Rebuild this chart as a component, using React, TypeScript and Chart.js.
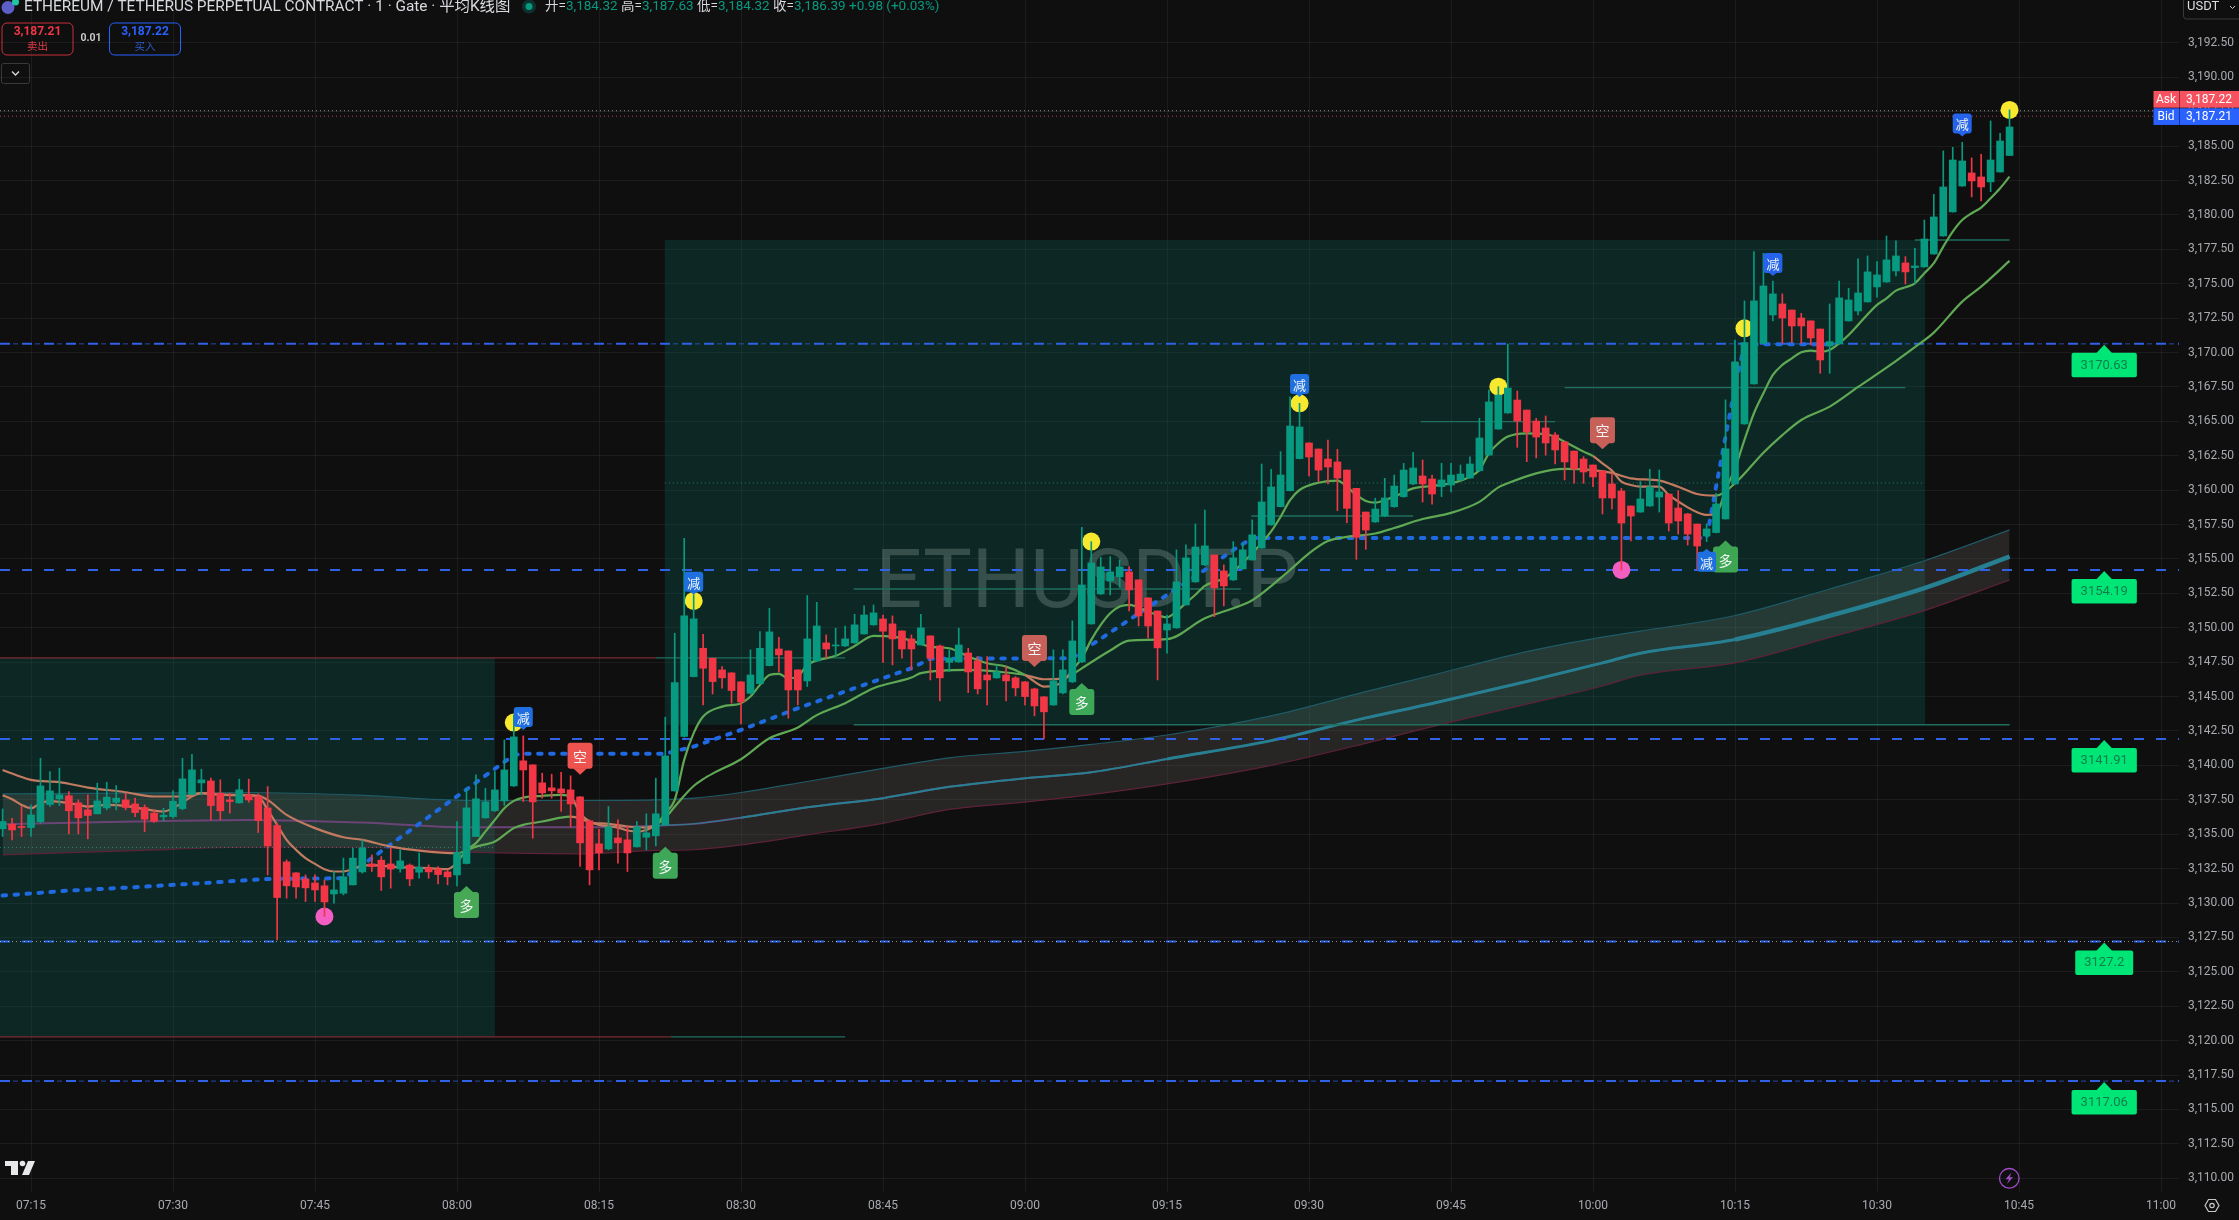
import React, { useEffect, useRef } from "react";
import { Chart, registerables } from "chart.js";

Chart.register(...registerables);

// ---- axes ----
const timeLabels = ["07:15", "07:30", "07:45", "08:00", "08:15", "08:30", "08:45", "09:00", "09:15", "09:30", "09:45", "10:00", "10:15", "10:30", "10:45", "11:00"];
const minuteMin = -3.275;
const minuteMax = 226.9;
const priceMin = 3109.0;
const priceMax = 3195.617;

// ---- 1 minute Heikin Ashi candles, first candle at minute -3 relative to 07:15 ----
const firstCandleMinute = -3;
const candleOpen = [
  3135.39, 3135.73, 3135.56, 3135.48, 3135.90, 3137.16, 3137.57, 3137.79, 3137.28, 3136.77,
  3136.48, 3136.91, 3137.32, 3137.49, 3137.20, 3136.94, 3136.53, 3136.26, 3136.28, 3136.86,
  3137.88, 3138.73, 3138.87, 3137.98, 3137.49, 3137.28, 3137.86, 3137.74, 3136.91, 3135.63,
  3132.99, 3132.19, 3131.75, 3131.46, 3131.25, 3130.66, 3130.71, 3131.32, 3132.26, 3132.84,
  3133.11, 3132.84, 3132.48, 3132.75, 3132.24, 3132.55, 3132.46, 3132.26, 3132.04, 3132.87,
  3134.83, 3136.19, 3136.70, 3137.42, 3138.51, 3140.33, 3140.04, 3138.73, 3138.37, 3138.29,
  3138.22, 3137.71, 3135.97, 3134.30, 3133.93, 3134.73, 3134.59, 3134.08, 3134.78, 3134.88,
  3135.68, 3138.15, 3142.10, 3146.45, 3148.51, 3147.79, 3146.94, 3146.72, 3146.07, 3145.24,
  3145.94, 3147.25, 3148.46, 3148.32, 3146.94, 3146.14, 3147.59, 3148.90, 3148.68, 3148.68,
  3148.90, 3149.55, 3150.21, 3150.64, 3150.28, 3149.77, 3149.19, 3148.75, 3149.41, 3148.68,
  3147.49, 3147.52, 3148.17, 3147.59, 3146.57, 3146.36, 3146.57, 3146.36, 3146.07, 3145.56,
  3144.98, 3144.39, 3145.27, 3146.07, 3147.52, 3150.28, 3152.46, 3153.40, 3153.70, 3154.06,
  3153.48, 3152.17, 3151.22, 3149.84, 3149.99, 3151.66, 3153.33, 3154.57, 3155.29, 3154.13,
  3153.48, 3154.28, 3154.93, 3155.80, 3157.47, 3158.80, 3159.96, 3162.29, 3163.43, 3162.99,
  3162.26, 3162.05, 3161.46, 3160.13, 3158.41, 3157.69, 3158.12, 3158.80, 3159.53, 3160.45,
  3161.03, 3160.81, 3160.25, 3160.37, 3160.74, 3160.88, 3161.42, 3162.55, 3164.44, 3165.61,
  3166.55, 3165.82, 3165.02, 3164.52, 3164.01, 3163.50, 3162.84, 3162.26, 3161.83, 3161.39,
  3160.45, 3159.94, 3158.85, 3158.41, 3158.85, 3159.50, 3159.72, 3158.70, 3158.27, 3157.54,
  3156.67, 3156.92, 3157.91, 3160.45, 3164.81, 3167.72, 3170.67, 3172.73, 3173.53, 3173.09,
  3172.51, 3172.30, 3171.71, 3170.48, 3170.63, 3172.30, 3173.02, 3173.68, 3174.77, 3175.13,
  3175.93, 3176.51, 3176.17, 3176.22, 3177.16, 3178.47, 3180.22, 3182.10, 3183.05, 3182.76,
  3182.40, 3183.12, 3184.32,
];
const candleHigh = [
  3136.84, 3136.16, 3137.01, 3137.13, 3140.52, 3139.55, 3139.80, 3138.10, 3137.49, 3137.86,
  3138.71, 3138.78, 3138.54, 3137.98, 3137.62, 3137.13, 3136.77, 3136.89, 3138.17, 3140.52,
  3140.81, 3139.72, 3139.07, 3138.95, 3137.98, 3139.00, 3139.00, 3137.93, 3138.46, 3135.80,
  3133.13, 3132.21, 3132.04, 3132.04, 3131.68, 3132.29, 3133.26, 3133.98, 3134.59, 3133.50,
  3133.38, 3133.98, 3133.86, 3132.84, 3133.62, 3132.77, 3132.65, 3132.41, 3135.92, 3138.34,
  3139.31, 3138.34, 3139.55, 3141.85, 3143.67, 3142.14, 3140.04, 3139.43, 3139.36, 3139.50,
  3139.24, 3137.74, 3136.04, 3135.36, 3137.01, 3136.04, 3135.56, 3135.92, 3136.48, 3139.07,
  3143.50, 3149.60, 3156.50, 3152.39, 3149.53, 3147.79, 3147.18, 3146.74, 3146.09, 3148.39,
  3149.72, 3151.42, 3149.31, 3148.32, 3146.94, 3152.34, 3151.85, 3149.48, 3149.97, 3150.13,
  3150.98, 3151.59, 3151.66, 3150.93, 3150.86, 3149.77, 3149.48, 3150.98, 3149.41, 3148.75,
  3148.39, 3149.97, 3148.51, 3147.91, 3147.91, 3147.30, 3147.18, 3146.45, 3146.09, 3145.61,
  3145.00, 3148.39, 3148.39, 3150.50, 3157.30, 3156.26, 3155.12, 3155.17, 3154.93, 3154.45,
  3153.48, 3152.17, 3151.22, 3150.93, 3155.66, 3156.02, 3157.55, 3158.56, 3155.29, 3154.57,
  3156.26, 3156.14, 3157.84, 3161.90, 3161.51, 3162.80, 3166.79, 3166.31, 3163.43, 3162.99,
  3163.64, 3162.97, 3161.46, 3160.13, 3158.41, 3159.41, 3160.86, 3161.10, 3161.95, 3162.75,
  3162.19, 3161.10, 3161.95, 3161.95, 3161.83, 3162.43, 3165.22, 3167.28, 3167.52, 3170.62,
  3167.20, 3165.82, 3165.22, 3165.39, 3164.18, 3163.50, 3162.84, 3162.43, 3161.83, 3161.39,
  3161.22, 3160.13, 3158.85, 3160.62, 3161.51, 3161.46, 3159.72, 3159.96, 3158.32, 3157.54,
  3157.55, 3159.77, 3166.56, 3170.90, 3173.75, 3177.33, 3177.21, 3175.20, 3174.26, 3173.09,
  3172.85, 3172.30, 3171.71, 3173.53, 3175.20, 3174.67, 3176.80, 3177.02, 3176.61, 3178.47,
  3178.11, 3176.97, 3177.58, 3179.63, 3181.50, 3184.65, 3184.91, 3185.28, 3184.14, 3184.41,
  3186.83, 3185.93, 3187.63,
];
const candleLow = [
  3134.83, 3134.59, 3134.83, 3134.83, 3135.80, 3137.01, 3137.08, 3135.02, 3135.02, 3134.66,
  3136.48, 3136.77, 3136.77, 3136.77, 3136.28, 3135.19, 3135.85, 3135.97, 3136.16, 3136.77,
  3137.86, 3137.86, 3136.04, 3136.04, 3136.53, 3137.25, 3137.32, 3135.12, 3132.04, 3127.32,
  3130.35, 3130.35, 3130.11, 3130.11, 3129.02, 3129.99, 3130.59, 3131.32, 3132.17, 3132.29,
  3130.91, 3131.08, 3132.24, 3131.25, 3131.80, 3131.80, 3131.39, 3131.32, 3131.25, 3132.84,
  3134.83, 3136.16, 3136.65, 3137.08, 3138.46, 3137.37, 3134.71, 3137.62, 3137.62, 3136.65,
  3135.56, 3132.65, 3131.32, 3132.41, 3133.86, 3132.89, 3132.29, 3134.06, 3133.86, 3134.15,
  3135.68, 3138.13, 3142.05, 3146.43, 3144.39, 3145.19, 3145.61, 3144.52, 3143.01, 3145.19,
  3145.92, 3147.23, 3146.77, 3143.43, 3144.39, 3145.73, 3147.54, 3147.79, 3147.91, 3148.63,
  3148.88, 3149.53, 3150.18, 3147.49, 3147.30, 3147.79, 3146.94, 3148.75, 3146.21, 3144.69,
  3146.82, 3147.49, 3145.29, 3145.19, 3144.39, 3146.33, 3144.69, 3145.05, 3144.39, 3143.60,
  3141.92, 3144.37, 3145.19, 3146.02, 3147.47, 3150.26, 3152.41, 3152.39, 3152.94, 3151.22,
  3150.13, 3149.24, 3146.21, 3148.15, 3149.96, 3151.64, 3153.31, 3154.52, 3150.81, 3151.59,
  3153.43, 3154.25, 3154.91, 3155.77, 3157.45, 3158.78, 3159.94, 3162.27, 3161.03, 3160.62,
  3160.45, 3158.51, 3157.64, 3154.97, 3155.70, 3157.66, 3158.07, 3158.75, 3159.48, 3160.40,
  3159.14, 3158.99, 3159.53, 3159.87, 3160.69, 3160.86, 3161.34, 3162.53, 3164.42, 3165.58,
  3163.11, 3162.07, 3162.34, 3162.55, 3161.90, 3160.74, 3160.50, 3160.50, 3160.25, 3158.27,
  3158.63, 3154.20, 3156.31, 3158.39, 3158.82, 3158.41, 3157.03, 3156.81, 3156.01, 3154.20,
  3156.26, 3156.90, 3157.89, 3160.43, 3164.79, 3167.70, 3170.65, 3172.30, 3170.67, 3170.72,
  3170.67, 3170.55, 3168.49, 3168.49, 3170.60, 3172.28, 3172.73, 3173.66, 3174.02, 3175.10,
  3175.57, 3174.98, 3175.03, 3176.20, 3177.14, 3178.45, 3180.20, 3182.08, 3181.31, 3181.02,
  3181.69, 3183.10, 3184.32,
];
const candleClose = [
  3135.92, 3135.31, 3135.48, 3136.40, 3138.51, 3138.15, 3137.86, 3136.70, 3136.19, 3136.36,
  3137.42, 3137.69, 3137.62, 3136.94, 3136.57, 3136.09, 3135.94, 3136.38, 3137.40, 3139.02,
  3139.67, 3138.95, 3137.08, 3136.70, 3137.37, 3138.22, 3137.49, 3135.99, 3134.15, 3130.40,
  3131.25, 3131.17, 3131.10, 3130.95, 3130.08, 3130.95, 3131.90, 3133.26, 3134.01, 3132.65,
  3131.90, 3132.46, 3133.06, 3131.75, 3132.60, 3132.26, 3132.07, 3131.90, 3133.67, 3136.91,
  3137.57, 3137.35, 3138.22, 3139.67, 3142.07, 3139.67, 3137.35, 3138.00, 3138.15, 3138.00,
  3137.20, 3134.37, 3132.41, 3133.64, 3135.53, 3134.37, 3133.64, 3135.53, 3135.10, 3136.48,
  3140.69, 3146.02, 3150.86, 3150.65, 3147.06, 3146.09, 3146.36, 3145.44, 3144.61, 3146.57,
  3148.51, 3149.70, 3148.03, 3145.48, 3145.48, 3149.19, 3150.13, 3148.46, 3148.75, 3149.19,
  3150.21, 3150.93, 3151.08, 3149.75, 3149.19, 3148.46, 3148.46, 3149.99, 3147.79, 3146.36,
  3147.81, 3148.75, 3146.79, 3145.56, 3146.21, 3146.79, 3146.14, 3145.63, 3145.00, 3144.32,
  3143.89, 3146.14, 3146.94, 3149.04, 3153.11, 3154.71, 3154.42, 3154.06, 3154.42, 3152.75,
  3150.86, 3150.13, 3148.54, 3150.28, 3153.33, 3155.08, 3155.87, 3155.95, 3152.90, 3153.04,
  3155.08, 3155.66, 3156.75, 3159.14, 3160.23, 3161.10, 3164.66, 3164.59, 3162.41, 3161.46,
  3161.68, 3160.88, 3158.68, 3156.57, 3157.10, 3158.63, 3159.43, 3160.30, 3161.46, 3161.61,
  3160.45, 3159.72, 3160.74, 3161.10, 3161.17, 3161.90, 3163.79, 3166.41, 3166.91, 3167.42,
  3165.02, 3164.23, 3163.86, 3163.43, 3162.92, 3162.05, 3161.54, 3161.32, 3160.96, 3159.43,
  3159.43, 3157.61, 3158.12, 3159.36, 3160.23, 3159.87, 3157.61, 3157.76, 3156.81, 3155.94,
  3157.18, 3159.00, 3163.00, 3169.32, 3170.72, 3173.75, 3174.84, 3174.26, 3172.51, 3171.93,
  3171.93, 3171.06, 3169.46, 3170.79, 3173.97, 3173.82, 3174.33, 3175.86, 3175.64, 3176.73,
  3177.02, 3175.86, 3176.29, 3178.25, 3179.85, 3182.03, 3183.99, 3183.92, 3182.47, 3182.03,
  3183.99, 3185.37, 3186.39,
];

// ---- fast moving average ----
const fastMinute = [
  -3, -2, -1, 0, 1, 2, 3, 5, 6, 8, 10, 12, 14, 15, 16, 17, 18, 20, 22, 24, 25, 26, 27, 28, 29, 30, 31, 32, 33, 34, 35, 36, 38, 40, 42, 44, 45, 46, 47, 48, 49, 50, 51, 52, 54, 56, 57, 58, 59, 60, 62, 63, 64, 65, 66, 67, 68, 69, 70, 71, 73, 75, 76, 77, 78, 79, 80, 81, 82, 83, 85, 87, 89, 91, 93, 95, 97, 99, 101, 103, 105, 106, 107, 108, 109, 110, 111, 112, 113, 114, 115, 116, 118, 120, 121, 122, 123, 124, 126, 127, 129, 131, 132, 133, 134, 136, 138, 139, 140, 141, 142, 143, 144, 146, 148, 150, 152, 153, 154, 155, 156, 158, 160, 162, 164, 165, 166, 167, 168, 169, 170, 172, 173, 175, 176, 177, 178, 179, 180, 181, 182, 183, 184, 185, 186, 187, 188, 189, 190, 191, 192, 193, 195, 196, 197, 198, 199, 200, 201, 202, 203, 204, 205, 206, 207, 208, 209,
];
const fastValue = [
  3137.83, 3137.54, 3137.13, 3136.89, 3137.25, 3137.40, 3137.35, 3137.13, 3137.01, 3137.13, 3137.06, 3136.82, 3136.65, 3136.89, 3137.30, 3137.74, 3137.98, 3137.88, 3137.83, 3137.74, 3136.77, 3135.68, 3134.59, 3133.86, 3133.26, 3132.84, 3132.46, 3132.29, 3132.29, 3132.46, 3132.72, 3132.75, 3132.65, 3132.58, 3132.53, 3132.46, 3132.94, 3133.86, 3134.35, 3135.19, 3136.04, 3136.89, 3137.42, 3137.66, 3137.79, 3137.86, 3137.74, 3136.53, 3135.92, 3135.68, 3135.48, 3135.27, 3135.19, 3135.31, 3135.65, 3136.53, 3137.50, 3140.40, 3142.34, 3143.55, 3144.27, 3144.52, 3145.00, 3145.85, 3146.57, 3146.65, 3146.33, 3146.45, 3147.30, 3147.62, 3147.96, 3148.68, 3149.41, 3149.36, 3149.07, 3148.63, 3148.51, 3147.91, 3147.42, 3147.18, 3146.57, 3146.09, 3145.73, 3145.78, 3146.09, 3146.94, 3147.79, 3149.12, 3150.21, 3151.06, 3151.54, 3151.66, 3151.18, 3150.76, 3151.20, 3151.80, 3152.40, 3153.05, 3153.59, 3154.08, 3155.41, 3157.00, 3158.07, 3159.28, 3160.01, 3160.54, 3160.69, 3160.25, 3159.65, 3159.21, 3159.09, 3159.28, 3159.53, 3160.13, 3160.30, 3160.50, 3160.98, 3161.46, 3162.68, 3163.40, 3163.89, 3164.13, 3164.08, 3163.52, 3162.80, 3162.48, 3161.95, 3161.42, 3160.62, 3160.37, 3160.25, 3160.25, 3159.65, 3158.75, 3158.40, 3158.20, 3158.27, 3160.02, 3161.59, 3163.65, 3165.59, 3167.04, 3168.37, 3169.10, 3169.58, 3170.02, 3170.14, 3170.07, 3170.19, 3170.67, 3171.28, 3172.01, 3173.46, 3173.94, 3174.50, 3174.74, 3175.03, 3175.76, 3176.49, 3177.70, 3178.79, 3179.63, 3180.12, 3180.53, 3181.21, 3181.94, 3182.78,
];

// ---- slow moving average ----
const slowMinute = [
  -3, 0, 3, 6, 10, 13, 16, 18, 20, 24, 25, 27, 30, 33, 35, 38, 41, 45, 47, 49, 51, 52, 54, 56, 57, 58, 59, 61, 63, 65, 66, 67, 68, 69, 70, 71, 72, 75, 78, 81, 83, 86, 89, 93, 94, 99, 103, 105, 107, 109, 110, 111, 114, 116, 120, 124, 127, 129, 133, 135, 137, 139, 142, 144, 147, 150, 153, 155, 156, 159, 162, 165, 167, 169, 172, 174, 176, 178, 180, 183, 185, 187, 190, 193, 196, 199, 201, 204, 206, 209,
];
const slowValue = [
  3139.67, 3138.95, 3138.78, 3138.39, 3138.05, 3137.74, 3137.74, 3137.98, 3137.86, 3137.79, 3137.49, 3136.40, 3135.44, 3134.78, 3134.59, 3134.10, 3133.81, 3133.62, 3134.10, 3134.47, 3135.44, 3135.68, 3135.92, 3136.21, 3136.28, 3136.16, 3135.87, 3135.75, 3135.56, 3135.48, 3135.68, 3136.20, 3137.00, 3137.80, 3138.50, 3139.00, 3139.40, 3140.45, 3141.97, 3142.75, 3143.65, 3144.52, 3145.61, 3146.38, 3146.70, 3146.94, 3146.75, 3146.57, 3146.26, 3146.30, 3146.60, 3147.05, 3148.35, 3149.07, 3149.17, 3150.69, 3151.42, 3152.00, 3154.20, 3155.41, 3156.30, 3156.60, 3156.85, 3157.25, 3157.90, 3158.35, 3159.15, 3160.20, 3160.50, 3161.22, 3161.54, 3161.45, 3161.25, 3160.86, 3160.69, 3160.25, 3159.72, 3159.60, 3160.50, 3162.72, 3164.00, 3165.10, 3166.07, 3167.50, 3168.90, 3170.40, 3171.45, 3173.70, 3174.79, 3176.66,
];
// stretches of minutes where both averages turn orange
const bearishFrom = [-9, 57, 105, 165];
const bearishTo = [45, 66, 110, 178];

// ---- thick dotted trail line ----
const trailMinute = [-3, 4, 11, 18, 25, 33, 36, 51, 52, 67, 70, 75, 81, 87, 93, 95, 110, 112, 120, 124, 127, 129, 177, 178, 179, 180, 181, 190];
const trailValue = [3130.54, 3130.90, 3131.15, 3131.44, 3131.75, 3131.80, 3133.26, 3140.75, 3140.85, 3140.85, 3141.37, 3142.58, 3144.15, 3145.61, 3147.06, 3147.75, 3147.79, 3148.75, 3152.39, 3154.20, 3155.65, 3156.52, 3156.52, 3160.25, 3163.90, 3167.50, 3170.60, 3170.60];

// ---- long moving average ribbon ----
const ribbonMinute = [-3, 11, 23, 35, 46, 58, 66, 70, 75, 82, 90, 97, 105, 112, 120, 131, 141, 148, 158, 166, 170, 180, 190, 200, 209];
const ribbonUpper = [3137.93, 3137.98, 3138.03, 3137.82, 3137.45, 3137.45, 3137.49, 3137.62, 3138.03, 3138.83, 3139.78, 3140.55, 3141.02, 3141.52, 3142.21, 3143.60, 3145.36, 3146.55, 3148.27, 3149.32, 3149.76, 3150.89, 3152.82, 3154.87, 3157.11];
const ribbonMiddle = [3135.73, 3135.92, 3136.04, 3135.85, 3135.51, 3135.51, 3135.62, 3135.75, 3136.20, 3136.95, 3137.62, 3138.44, 3139.07, 3139.50, 3140.47, 3141.80, 3143.45, 3144.50, 3146.10, 3147.45, 3148.15, 3149.15, 3150.87, 3152.88, 3155.17];
const ribbonLower = [3133.50, 3133.81, 3134.05, 3134.05, 3133.70, 3133.57, 3133.82, 3133.87, 3134.22, 3134.95, 3135.79, 3136.80, 3137.33, 3137.87, 3138.65, 3140.00, 3141.60, 3142.82, 3144.45, 3145.77, 3146.55, 3147.45, 3149.30, 3151.25, 3153.47];

// ---- horizontal levels ----
const levelValues = [3170.63, 3154.19, 3141.91, 3127.2, 3117.06];
const levelLabelMinute = 219;
const askPrice = 3187.22;
const bidPrice = 3187.21;
const highDotted = 3187.57;
const lowDotted = 3187.17;

// ---- zones ----
const zoneFrom = [minuteMin, 66.95];
const zoneTo = [49, 200.07];
const zoneTop = [3147.81, 3178.18];
const zoneBottom = [3120.27, 3142.95];
const zoneMidDotFrom = [minuteMin, 66.95];
const zoneMidDotTo = [49, 200.07];
const zoneMid = [3134.04, 3160.52];
const stubValue = [3147.81, 3147.81, 3120.27, 3120.27, 3178.18, 3142.95, 3152.82, 3158.12, 3164.98, 3167.45];
const stubFrom = [minuteMin, 66, minuteMin, 67.6, 199, 86.9, 86.9, 128.9, 146.8, 162];
const stubTo = [66, 86, 67.6, 86, 209, 209, 127.8, 146, 161, 198];
const stubIsRed = [true, false, true, false, false, false, false, false, false, false];

// ---- signals ----
const yellowMinute = [51, 70, 112, 134, 155, 181, 209];
const yellowPrice = [3143.11, 3151.95, 3156.26, 3166.31, 3167.52, 3171.76, 3187.63];
const pinkMinute = [31, 168];
const pinkPrice = [3129.02, 3154.2];
const tagMinute = [46, 67, 111, 179, 58, 106, 166, 52, 70, 134, 177, 184, 204];
const tagPrice = [3129.86, 3132.7, 3144.6, 3154.96, 3140.7, 3148.53, 3164.36, 3143.52, 3153.35, 3167.72, 3154.8, 3176.51, 3186.64];
const tagText = ["多", "多", "多", "多", "空", "空", "空", "减", "减", "减", "减", "减", "减"];
const tagColor = ["#47a856", "#3fa758", "#3da858", "#3ea553", "#ef5350", "#c8605a", "#c8605a", "#1f6fe0", "#1f6fe0", "#1f6fe0", "#1f6fe0", "#2563eb", "#2563eb"];

// ---- colours ----
const UP = "#089981";
const DOWN = "#f23645";
const GREEN_LINE = "#5fa854";
const ORANGE_LINE = "#c27a60";
const BG = "#0f0f10";
const ZONE_FILL = "rgba(8,153,129,0.18)";
const SANS = "Roboto, 'Noto Sans', sans-serif";
const CJK = "'Noto Sans CJK SC', Roboto, sans-serif";

const pts = (xs: number[], ys: number[]) => xs.map((x, i) => ({ x, y: ys[i] }));
const candleMinute = candleOpen.map((_, i) => firstCandleMinute + i);
const isUp = (i: number) => candleClose[i] >= candleOpen[i];
const inBearish = (m: number) => bearishFrom.some((f, i) => m >= f && m < bearishTo[i]);
const fmt = (v: number) => v.toLocaleString("en-US", { minimumFractionDigits: 2, maximumFractionDigits: 2 });

function hLine(y: number, from: number, to: number, color: string, width: number, dash: number[], order: number) {
  return {
    type: "line",
    data: [{ x: from, y }, { x: to, y }],
    borderColor: color,
    borderWidth: width,
    borderDash: dash,
    pointRadius: 0,
    fill: false,
    order,
  };
}

function rr(ctx: CanvasRenderingContext2D, x: number, y: number, w: number, h: number, r: number) {
  ctx.beginPath();
  ctx.roundRect(x, y, w, h, r);
}

const decorations = {
  id: "decorations",
  beforeDraw(chart: any) {
    const ctx = chart.ctx;
    ctx.save();
    ctx.fillStyle = BG;
    ctx.fillRect(0, 0, chart.width, chart.height);
    ctx.restore();
  },
  beforeDatasetsDraw(chart: any) {
    const { ctx, scales, chartArea } = chart;
    const X = scales.x;
    const Y = scales.y;
    ctx.save();
    ctx.beginPath();
    ctx.rect(chartArea.left, chartArea.top, chartArea.right - chartArea.left, chartArea.bottom - chartArea.top);
    ctx.clip();
    zoneFrom.forEach((from, i) => {
      const x0 = X.getPixelForValue(from);
      const x1 = X.getPixelForValue(zoneTo[i]);
      const y0 = Y.getPixelForValue(zoneTop[i]);
      const y1 = Y.getPixelForValue(zoneBottom[i]);
      ctx.fillStyle = ZONE_FILL;
      ctx.fillRect(x0, y0, x1 - x0, y1 - y0);
    });
    ctx.fillStyle = "rgba(205,220,215,0.22)";
    ctx.font = `82px ${SANS}`;
    ctx.textAlign = "center";
    ctx.textBaseline = "middle";
    ctx.fillText("ETHUSDT.P", 1087, 586);
    ctx.restore();
  },
  afterDatasetsDraw(chart: any) {
    const { ctx, scales } = chart;
    const X = scales.x;
    const Y = scales.y;
    ctx.save();
    // signal tags
    tagText.forEach((text, i) => {
      const cx = X.getPixelForValue(tagMinute[i]);
      const cy = Y.getPixelForValue(tagPrice[i]);
      const small = text === "减";
      const w = small ? 19 : 25;
      const h = small ? 20 : 26;
      const pointsUp = text === "多" || tagMinute[i] === 177;
      ctx.fillStyle = tagColor[i];
      rr(ctx, cx - w / 2, cy - h / 2, w, h, 3);
      ctx.fill();
      const tip = small ? 3 : 6;
      ctx.beginPath();
      if (pointsUp) {
        ctx.moveTo(cx - tip - 1, cy - h / 2 + 0.5);
        ctx.lineTo(cx, cy - h / 2 - tip);
        ctx.lineTo(cx + tip + 1, cy - h / 2 + 0.5);
      } else {
        ctx.moveTo(cx - tip - 1, cy + h / 2 - 0.5);
        ctx.lineTo(cx, cy + h / 2 + tip);
        ctx.lineTo(cx + tip + 1, cy + h / 2 - 0.5);
      }
      ctx.closePath();
      ctx.fill();
      ctx.fillStyle = "#f1f6f4";
      ctx.font = `${small ? 13 : 14}px ${CJK}`;
      ctx.textAlign = "center";
      ctx.textBaseline = "middle";
      ctx.fillText(text, cx, cy + 1);
    });
    // level labels
    levelValues.forEach((lv) => {
      const cx = X.getPixelForValue(levelLabelMinute);
      const ly = Y.getPixelForValue(lv);
      const text = String(lv);
      ctx.font = `13px ${SANS}`;
      const w = ctx.measureText(text).width + 18;
      ctx.fillStyle = "#00e676";
      rr(ctx, cx - w / 2, ly + 9, w, 24.5, 2);
      ctx.fill();
      ctx.beginPath();
      ctx.moveTo(cx - 8, ly + 9.5);
      ctx.lineTo(cx, ly + 1);
      ctx.lineTo(cx + 8, ly + 9.5);
      ctx.closePath();
      ctx.fill();
      ctx.fillStyle = "#0f7d4b";
      ctx.textAlign = "center";
      ctx.textBaseline = "middle";
      ctx.fillText(text, cx, ly + 21.5);
    });
    ctx.restore();
  },
  afterDraw(chart: any) {
    const { ctx } = chart;
    ctx.save();
    ctx.textBaseline = "middle";
    // logo
    ctx.fillStyle = "#5b5fc7";
    ctx.beginPath();
    ctx.arc(8, 7.5, 6.5, 0, Math.PI * 2);
    ctx.fill();
    ctx.fillStyle = "#1fc7a5";
    ctx.beginPath();
    ctx.arc(15.5, 2, 3.5, 0, Math.PI * 2);
    ctx.fill();
    // header
    ctx.textAlign = "left";
    ctx.font = `15.4px ${SANS}, 'Noto Sans CJK SC'`;
    ctx.fillStyle = "#d8dade";
    ctx.fillText("ETHEREUM / TETHERUS PERPETUAL CONTRACT · 1 · Gate · 平均K线图", 24, 7);
    ctx.fillStyle = "rgba(8,153,129,0.25)";
    ctx.beginPath();
    ctx.arc(529, 6.5, 7, 0, Math.PI * 2);
    ctx.fill();
    ctx.fillStyle = "#089981";
    ctx.beginPath();
    ctx.arc(529, 6.5, 3.5, 0, Math.PI * 2);
    ctx.fill();
    let hx = 545;
    const ohlc: [string, string][] = [
      ["开=", "#d8dade"], ["3,184.32", UP], [" 高=", "#d8dade"], ["3,187.63", UP], [" 低=", "#d8dade"], ["3,184.32", UP], [" 收=", "#d8dade"], ["3,186.39", UP], [" +0.98 (+0.03%)", UP],
    ];
    ctx.font = `13.5px ${SANS}, 'Noto Sans CJK SC'`;
    ohlc.forEach(([t, c]) => {
      ctx.fillStyle = c;
      ctx.fillText(t, hx, 7);
      hx += ctx.measureText(t).width;
    });
    // buy / sell widgets
    ctx.lineWidth = 1;
    ctx.strokeStyle = "#c9303a";
    rr(ctx, 2, 23, 71, 32, 5);
    ctx.stroke();
    ctx.strokeStyle = "#2962ff";
    rr(ctx, 109.5, 23, 71, 32, 5);
    ctx.stroke();
    ctx.textAlign = "center";
    ctx.font = `bold 12px ${SANS}`;
    ctx.fillStyle = "#f23645";
    ctx.fillText("3,187.21", 37.5, 32);
    ctx.fillStyle = "#2962ff";
    ctx.fillText("3,187.22", 145, 32);
    ctx.font = `bold 10.5px ${SANS}`;
    ctx.fillStyle = "#c8c8c8";
    ctx.fillText("0.01", 91, 38.5);
    ctx.font = `10.5px ${CJK}`;
    ctx.fillStyle = "#e03a45";
    ctx.fillText("卖出", 37.5, 46.5);
    ctx.fillStyle = "#2f5cc9";
    ctx.fillText("买入", 145, 46.5);
    // collapse button
    ctx.strokeStyle = "#3a3a3c";
    rr(ctx, 1.5, 63.5, 28, 20, 2);
    ctx.stroke();
    ctx.strokeStyle = "#d8dade";
    ctx.lineWidth = 1.3;
    ctx.beginPath();
    ctx.moveTo(12, 71.5);
    ctx.lineTo(15.5, 75);
    ctx.lineTo(19, 71.5);
    ctx.stroke();
    // USDT
    ctx.strokeStyle = "#3a3a3c";
    ctx.lineWidth = 1;
    rr(ctx, 2183.5, -6, 60, 25, 3);
    ctx.stroke();
    ctx.font = `13px ${SANS}`;
    ctx.fillStyle = "#dcdde0";
    ctx.textAlign = "left";
    ctx.fillText("USDT", 2187, 7);
    ctx.strokeStyle = "#c8c9cc";
    ctx.beginPath();
    ctx.moveTo(2230, 6);
    ctx.lineTo(2232.5, 8.5);
    ctx.lineTo(2235, 6);
    ctx.stroke();
    // ask / bid
    const Y = chart.scales.y;
    const askY = Y.getPixelForValue(askPrice) - 24.6;
    const rows: [string, number, string][] = [["Ask", askPrice, "#f7525f"], ["Bid", bidPrice, "#2962ff"]];
    rows.forEach(([name, price, color], i) => {
      const top = askY + i * 17.3;
      ctx.fillStyle = color;
      ctx.fillRect(2153.5, top, 25.5, 16.7);
      ctx.fillRect(2179.5, top, 59.5, 16.7);
      ctx.fillStyle = "#ffffff";
      ctx.textAlign = "center";
      ctx.font = `12px ${SANS}`;
      ctx.fillText(name, 2166, top + 8.6);
      ctx.fillText(fmt(price), 2209, top + 8.6);
    });
    // TradingView mark
    ctx.fillStyle = "#e8e8ea";
    ctx.fillRect(5, 1161, 13, 5);
    ctx.fillRect(11, 1161, 7, 14);
    ctx.beginPath();
    ctx.arc(22.5, 1163.5, 2.8, 0, Math.PI * 2);
    ctx.fill();
    ctx.beginPath();
    ctx.moveTo(28, 1161);
    ctx.lineTo(35, 1161);
    ctx.lineTo(29, 1175);
    ctx.lineTo(22, 1175);
    ctx.closePath();
    ctx.fill();
    // lightning badge
    ctx.strokeStyle = "#a24cc9";
    ctx.lineWidth = 1.3;
    ctx.beginPath();
    ctx.arc(2009.3, 1178.3, 9.8, 0, Math.PI * 2);
    ctx.stroke();
    ctx.fillStyle = "#a24cc9";
    ctx.beginPath();
    ctx.moveTo(2011.5, 1172.5);
    ctx.lineTo(2005.5, 1179.3);
    ctx.lineTo(2009, 1179.3);
    ctx.lineTo(2007, 1184);
    ctx.lineTo(2013, 1177.3);
    ctx.lineTo(2009.6, 1177.3);
    ctx.closePath();
    ctx.fill();
    // settings hexagon
    ctx.strokeStyle = "#c8c9cc";
    ctx.lineWidth = 1.2;
    ctx.beginPath();
    [[-7, 0], [-3.5, -6], [3.5, -6], [7, 0], [3.5, 6], [-3.5, 6]].forEach(([dx, dy], i) => {
      if (i === 0) ctx.moveTo(2212 + dx, 1205.5 + dy);
      else ctx.lineTo(2212 + dx, 1205.5 + dy);
    });
    ctx.closePath();
    ctx.stroke();
    ctx.beginPath();
    ctx.arc(2212, 1205.5, 2.2, 0, Math.PI * 2);
    ctx.stroke();
    ctx.restore();
  },
};

export default function App() {
  const ref = useRef<HTMLCanvasElement | null>(null);
  useEffect(() => {
    if (!ref.current) return;
    document.body.style.background = BG;
    const ma = (xs: number[], ys: number[], order: number) => ({
      type: "line",
      data: pts(xs, ys),
      borderColor: GREEN_LINE,
      borderWidth: 2.2,
      cubicInterpolationMode: "monotone",
      pointRadius: 0,
      fill: false,
      order,
      segment: { borderColor: (c: any) => (inBearish(c.p0.parsed.x) ? ORANGE_LINE : undefined) },
    });
    const datasets: any[] = [
      {
        type: "line", data: pts(ribbonMinute, ribbonUpper), borderColor: "#1f5a66", borderWidth: 1.2, pointRadius: 0,
        cubicInterpolationMode: "monotone", fill: "+1", backgroundColor: "rgba(135,130,125,0.2)", order: 50,
      },
      {
        type: "line", data: pts(ribbonMinute, ribbonMiddle), borderColor: "#6a4477", borderWidth: 2, pointRadius: 0,
        cubicInterpolationMode: "monotone", fill: "+1", backgroundColor: "rgba(135,130,125,0.2)", order: 49,
      },
      {
        type: "line", data: pts(ribbonMinute, ribbonLower), borderColor: "#5e2238", borderWidth: 1.2, pointRadius: 0,
        cubicInterpolationMode: "monotone", fill: false, order: 48,
      },
      {
        type: "line",
        data: pts(ribbonMinute.slice(6), ribbonMiddle.slice(6)),
        borderColor: "#277f92",
        borderWidth: 2,
        pointRadius: 0,
        cubicInterpolationMode: "monotone",
        fill: false,
        order: 47,
        segment: {
          borderWidth: (c: any) => {
            const m = c.p0.parsed.x;
            return m < 75 ? 1 : m < 120 ? 2 : m < 180 ? 3 : 4.5;
          },
        },
      },
      ...zoneMid.map((v, i) => hLine(v, zoneMidDotFrom[i], zoneMidDotTo[i], "rgba(60,190,160,0.55)", 1, [1, 3], 45)),
      ...stubValue.map((v, i) => hLine(v, stubFrom[i], stubTo[i], stubIsRed[i] ? "#7d2a30" : "#1f6f5c", 1.4, [], 44)),
      hLine(highDotted, minuteMin, minuteMax, "rgba(255,255,255,0.55)", 1, [1, 3], 40),
      hLine(lowDotted, minuteMin, minuteMax, "rgba(242,90,110,0.7)", 1, [1, 3], 40),
      ...levelValues.map((v) => hLine(v, minuteMin, minuteMax, "#2f62e6", 2, [10, 12], 38)),
      hLine(levelValues[0], minuteMin, minuteMax, "rgba(47,98,230,0.7)", 1, [0, 13, 5, 4], 37),
      hLine(levelValues[4], minuteMin, minuteMax, "rgba(47,98,230,0.7)", 1, [0, 13, 5, 4], 37),
      hLine(levelValues[3], minuteMin, minuteMax, "rgba(255,255,255,0.55)", 1, [1, 3], 37),
      {
        type: "line", data: pts(trailMinute, trailValue), borderColor: "#1f6ae0", borderWidth: 4, borderDash: [3.5, 8.5],
        borderCapStyle: "round", pointRadius: 0, fill: false, tension: 0, order: 30,
      },
      ma(slowMinute, slowValue, 25),
      ma(fastMinute, fastValue, 24),
      {
        type: "scatter", data: pts(yellowMinute, yellowPrice), showLine: false, pointRadius: 9, pointBorderWidth: 0,
        backgroundColor: "#f8e92f", borderWidth: 0, order: 12,
      },
      {
        type: "scatter", data: pts(pinkMinute, pinkPrice), showLine: false, pointRadius: 9, pointBorderWidth: 0,
        backgroundColor: "#f25ec1", borderWidth: 0, order: 12,
      },
      {
        type: "bar",
        data: candleMinute.map((x, i) => ({ x, y: [candleLow[i], candleHigh[i]] })),
        backgroundColor: candleMinute.map((_, i) => (isUp(i) ? UP : DOWN)),
        barThickness: 1,
        grouped: false,
        order: 6,
      },
      {
        type: "bar",
        data: candleMinute.map((x, i) => ({ x, y: [candleOpen[i], candleClose[i]] })),
        backgroundColor: candleMinute.map((_, i) => (isUp(i) ? UP : DOWN)),
        barThickness: 7,
        minBarLength: 1,
        grouped: false,
        order: 5,
      },
    ];
    const gridColor = "rgba(255,255,255,0.055)";
    const chart = new Chart(ref.current, {
      type: "bar",
      data: { datasets },
      plugins: [decorations],
      options: {
        responsive: false,
        animation: false,
        events: [],
        layout: { padding: 0, autoPadding: false },
        plugins: { legend: { display: false }, tooltip: { enabled: false }, title: { display: false } },
        scales: {
          x: {
            type: "linear",
            position: "bottom",
            min: minuteMin,
            max: minuteMax,
            offset: false,
            border: { display: false },
            grid: { color: gridColor, offset: false, drawTicks: false },
            ticks: {
              stepSize: 15,
              includeBounds: false,
              autoSkip: false,
              maxRotation: 0,
              padding: 7,
              color: "#a9abb0",
              font: { family: "Roboto", size: 12 },
              callback: (v: any) => timeLabels[Math.round(Number(v) / 15)] ?? null,
            },
            afterFit: (s: any) => {
              s.height = 28;
              s.paddingLeft = s.paddingRight = s.paddingTop = s.paddingBottom = 0;
            },
          },
          y: {
            type: "linear",
            position: "right",
            min: priceMin,
            max: priceMax,
            beginAtZero: false,
            border: { display: false },
            grid: { color: gridColor, drawTicks: false },
            ticks: {
              stepSize: 2.5,
              includeBounds: false,
              autoSkip: false,
              padding: 9,
              color: "#a9abb0",
              font: { family: "Roboto", size: 12 },
              callback: (v: any) => (Number(v) > 3193 ? null : fmt(Number(v))),
            },
            afterFit: (s: any) => {
              s.width = 60;
              s.paddingLeft = s.paddingRight = s.paddingTop = s.paddingBottom = 0;
            },
          },
        },
      } as any,
    } as any);
    return () => chart.destroy();
  }, []);
  return (
    <div style={{ position: "fixed", left: 0, top: 0, width: 2239, height: 1220, background: BG }}>
      <canvas ref={ref} width={2239} height={1220} style={{ display: "block", width: 2239, height: 1220 }} />
    </div>
  );
}
